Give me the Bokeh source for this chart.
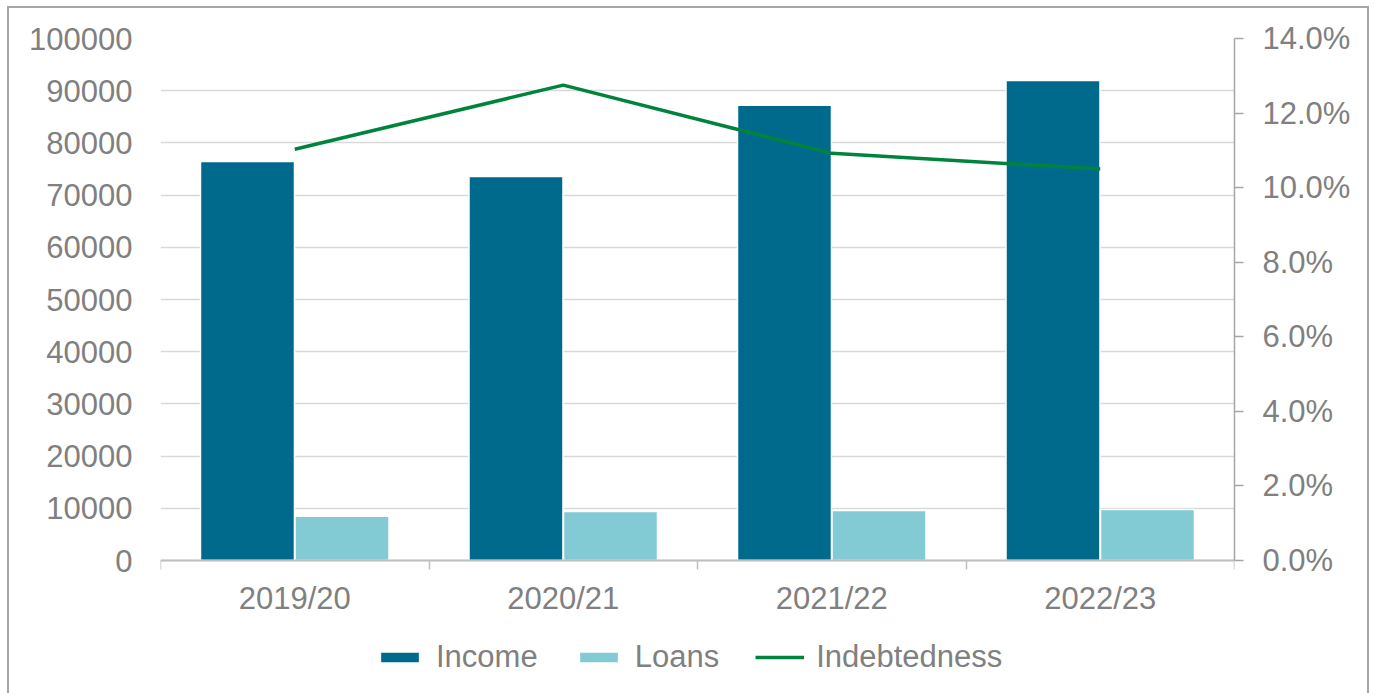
from bokeh.plotting import figure
from bokeh.models import (Range1d, LinearAxis, FixedTicker, NumeralTickFormatter,
                          Legend, LegendItem, ColumnDataSource,
                          CustomJSTickFormatter)
from bokeh.embed import file_html
from bokeh.resources import INLINE

# ---- data ----
categories = ["2019/20", "2020/21", "2021/22", "2022/23"]
income = [76450, 73550, 87200, 91950]
loans = [8500, 9400, 9600, 9780]
indebtedness = [0.1103, 0.1275, 0.1092, 0.1050]
left_ticks = [0, 10000, 20000, 30000, 40000, 50000, 60000, 70000, 80000, 90000, 100000]
right_ticks = [0.0, 0.02, 0.04, 0.06, 0.08, 0.10, 0.12, 0.14]

FONT = "Liberation Sans"
TXT = "#808080"
FS = "31px"

# frame: top 38px, axis zero line at 560px, frame bottom at 693px
Y_MAX = 100000
P_MAX = 0.14
below_frac = (693 - 560) / (560 - 38)

idx = list(range(len(categories)))
centers = [i + 0.5 for i in idx]
src = ColumnDataSource(dict(
    xi=[c - 0.176 for c in centers],
    xl=[c + 0.176 for c in centers],
    xc=centers,
    income=income, loans=loans, ind=indebtedness,
))

p = figure(width=1375, height=693, output_backend="svg", toolbar_location=None,
           x_range=Range1d(0, len(categories)),
           y_range=Range1d(-Y_MAX * below_frac, Y_MAX),
           min_border_left=160, min_border_right=141, min_border_top=38,
           min_border_bottom=0)
p.extra_y_ranges = {"pct": Range1d(-P_MAX * below_frac, P_MAX)}
p.outline_line_color = None
p.background_fill_alpha = 0
p.border_fill_alpha = 0
G = "linear-gradient(#A6A6A6,#A6A6A6)"
p.styles = {"background": (f"{G} 7px 6px / 1362px 2px no-repeat, "
                           f"{G} 7px 6px / 2px 700px no-repeat, "
                           f"{G} 1367px 6px / 2px 700px no-repeat, white")}

# grid
p.xgrid.grid_line_color = None
p.ygrid.ticker = FixedTicker(ticks=left_ticks)
p.ygrid.grid_line_color = "#D9D9D9"
p.ygrid.grid_line_width = 1.5

# left axis
ya = p.yaxis[0]
ya.ticker = FixedTicker(ticks=left_ticks)
ya.formatter = NumeralTickFormatter(format="0")
ya.axis_line_color = None
ya.major_tick_line_color = None
ya.minor_tick_line_color = None
ya.major_tick_out = 0
ya.major_tick_in = 0
ya.major_label_standoff = 28
ya.major_label_text_font = FONT
ya.major_label_text_font_size = FS
ya.major_label_text_color = TXT

# right axis
ra = LinearAxis(y_range_name="pct", ticker=FixedTicker(ticks=right_ticks),
                formatter=NumeralTickFormatter(format="0.0%"),
                bounds=(0, P_MAX))
ra.axis_line_color = "#A6A6A6"
ra.axis_line_width = 1.5
ra.major_tick_line_color = "#A6A6A6"
ra.major_tick_line_width = 1.5
ra.major_tick_out = 9
ra.major_tick_in = 0
ra.minor_tick_line_color = None
ra.major_label_standoff = 19
ra.major_label_text_font = FONT
ra.major_label_text_font_size = FS
ra.major_label_text_color = TXT
p.add_layout(ra, "right")

# bottom axis, placed at value 0
xa = p.xaxis[0]
xa.fixed_location = 0
xa.ticker = FixedTicker(ticks=centers, minor_ticks=[0, 1, 2, 3, 4])
xa.formatter = CustomJSTickFormatter(args=dict(labels=categories),
                                     code="return labels[Math.floor(tick)] || '';")
xa.axis_line_color = "#BFBFBF"
xa.axis_line_width = 2
xa.major_tick_line_color = None
xa.major_tick_out = 0
xa.major_tick_in = 0
xa.minor_tick_line_color = "#BFBFBF"
xa.minor_tick_line_width = 1.5
xa.minor_tick_out = 9
xa.minor_tick_in = 0
xa.major_label_standoff = 11
xa.major_label_text_font = FONT
xa.major_label_text_font_size = FS
xa.major_label_text_color = TXT

# glyphs
r_inc = p.vbar(x="xi", top="income", width=0.35, source=src,
               fill_color="#006A8D", line_color="white", line_width=1.5)
r_loan = p.vbar(x="xl", top="loans", width=0.35, source=src,
                fill_color="#82CBD4", line_color="white", line_width=1.5)
r_line = p.line(x="xc", y="ind", source=src, y_range_name="pct",
                line_color="#00843D", line_width=3.5)

legend = Legend(items=[LegendItem(label="Income", renderers=[r_inc]),
                       LegendItem(label="Loans", renderers=[r_loan]),
                       LegendItem(label="Indebtedness", renderers=[r_line])],
                orientation="horizontal", location=(215, 18),
                glyph_width=49, glyph_height=14, label_standoff=12, spacing=36,
                label_text_font=FONT, label_text_font_size=FS,
                label_text_color=TXT, border_line_color=None,
                background_fill_alpha=0, padding=6, margin=0)
p.add_layout(legend, "center")

open("out.html", "w").write(file_html(p, INLINE))
